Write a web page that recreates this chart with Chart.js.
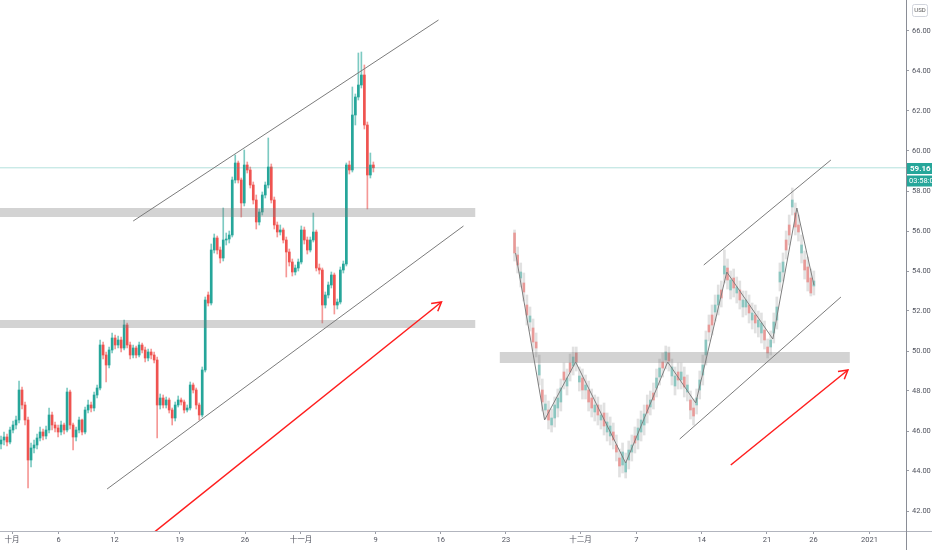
<!DOCTYPE html>
<html><head><meta charset="utf-8">
<script src="https://cdn.jsdelivr.net/npm/chart.js@4.4.0/dist/chart.umd.min.js"></script>
<style>html,body{margin:0;padding:0;background:#fff;}canvas{display:block;}</style>
</head><body>
<canvas id="c" width="932" height="550"></canvas>
<script>
// ---------- time axis (days since 1 Oct 2020) ----------
const xTickDays   = [0, 5, 11, 18, 25, 31, 39, 46, 53, 61, 67, 74, 81, 86, 92];
const xTickLabels = ['十月','6','12','19','26','十一月','9','16','23','十二月','7','14','21','26','2021'];
const yTickValues = [42,44,46,48,50,52,54,56,58,60,62,64,66];

// ---------- real candles (left part) ----------
const leftStartDay = -1.18;
const leftStep = 0.3222;
const leftO = [45.35,45.55,45.70,45.45,46.05,46.30,46.55,48.05,47.30,46.55,44.55,45.15,45.30,45.65,45.95,45.75,46.05,46.80,46.30,46.15,45.95,46.30,46.05,47.95,46.30,45.70,46.05,46.55,45.95,47.05,47.30,47.15,47.80,48.15,50.30,49.80,49.30,50.05,50.65,50.30,50.55,50.15,51.30,50.30,49.80,50.15,49.80,50.30,50.05,49.65,49.95,49.80,49.55,47.30,47.65,47.30,47.55,47.05,46.65,47.30,47.55,47.45,47.05,47.15,48.30,48.05,47.30,46.80,49.05,52.80,52.40,55.05,55.65,55.05,54.65,55.55,55.60,55.80,58.55,59.40,58.55,57.40,59.30,59.05,58.30,57.55,56.45,56.95,57.80,58.30,59.20,57.55,56.30,55.95,56.05,55.55,54.95,54.45,53.95,54.15,54.45,56.05,55.55,55.05,55.55,55.95,54.15,54.05,52.30,52.80,53.30,53.80,52.30,52.45,54.05,54.35,59.30,59.05,61.80,62.70,63.30,63.80,61.30,58.80,59.30];
const leftH = [45.75,45.95,45.85,46.20,46.50,46.75,48.50,48.20,47.45,46.70,45.40,45.55,45.85,46.20,46.10,46.25,47.15,46.95,46.45,46.30,46.50,46.40,48.15,48.05,46.40,46.20,46.70,46.60,47.20,47.55,47.45,47.95,48.30,50.55,50.45,49.95,50.20,50.90,50.80,50.75,50.70,51.55,51.40,50.45,50.30,50.25,50.45,50.40,50.20,50.10,50.10,49.95,49.70,47.85,47.80,47.70,47.65,47.15,47.45,47.75,47.65,47.55,47.30,48.45,48.40,48.15,47.40,49.20,52.70,52.95,55.35,55.85,55.75,55.20,57.15,55.90,56.00,58.70,59.80,59.50,58.65,60.05,59.45,59.20,58.45,57.80,57.10,57.95,58.45,60.65,59.35,57.70,56.45,56.30,56.15,55.70,55.10,54.60,54.30,54.60,56.25,56.20,55.70,55.70,56.90,56.05,54.35,54.15,52.95,53.45,53.95,53.90,52.60,54.20,54.50,59.40,59.50,63.20,62.85,64.90,64.95,64.30,61.45,59.90,59.45];
const leftL = [45.10,45.30,45.25,45.35,45.90,46.10,46.40,47.10,46.30,43.15,44.20,44.90,45.10,45.50,45.55,45.60,45.90,46.05,45.95,45.70,45.80,45.85,45.95,46.10,45.05,45.50,45.90,45.80,45.85,46.90,46.95,47.00,47.65,48.05,49.60,48.45,49.15,49.90,50.10,50.15,49.95,50.05,50.15,49.60,49.65,49.65,49.70,49.90,49.45,49.50,49.60,49.40,45.65,47.10,47.15,47.15,46.90,46.30,46.50,47.20,47.30,46.90,46.95,47.05,47.90,47.10,46.55,46.70,48.95,52.25,52.30,54.90,54.85,54.40,54.50,55.30,55.40,55.70,58.40,58.40,56.70,57.25,58.90,58.15,57.35,56.10,56.30,56.80,57.65,58.15,57.40,56.10,55.70,55.80,55.40,53.70,54.25,53.75,53.80,54.00,54.35,55.35,54.85,54.95,55.45,54.00,53.85,51.40,52.15,52.65,53.15,51.85,52.10,52.35,53.90,54.25,58.85,58.95,61.30,62.55,63.15,61.10,57.10,58.65,58.95];
const leftC = [45.55,45.70,45.45,46.05,46.30,46.55,48.05,47.30,46.55,44.55,45.15,45.30,45.65,45.95,45.75,46.05,46.80,46.30,46.15,45.95,46.30,46.05,47.95,46.30,45.70,46.05,46.55,45.95,47.05,47.30,47.15,47.80,48.15,50.30,49.80,49.30,50.05,50.65,50.30,50.55,50.15,51.30,50.30,49.80,50.15,49.80,50.30,50.05,49.65,49.95,49.80,49.55,47.30,47.65,47.30,47.55,47.05,46.65,47.30,47.55,47.45,47.05,47.15,48.30,48.05,47.30,46.80,49.05,52.55,52.40,55.05,55.65,55.05,54.65,55.55,55.60,55.80,58.55,59.40,58.55,57.40,59.30,59.05,58.30,57.55,56.45,56.95,57.80,58.30,59.20,57.55,56.30,55.95,56.05,55.55,54.95,54.45,53.95,54.15,54.45,56.05,55.55,55.05,55.55,55.95,54.15,54.05,52.30,52.80,53.30,53.80,52.30,52.45,54.05,54.35,59.30,59.05,61.80,62.70,63.30,63.80,61.30,58.80,59.30,59.16];

// ---------- projected (ghost) candles (right part) ----------
const ghostStartDay = 53.92;
const ghostStep = 0.3311;
const ghostO = [55.90,54.80,53.65,53.40,52.30,51.45,51.15,50.45,48.80,48.05,47.05,47.05,46.30,46.65,47.15,47.45,48.95,48.25,49.40,49.25,49.90,48.45,48.65,48.05,48.05,47.65,46.95,47.30,46.55,46.90,45.95,45.75,45.95,45.30,44.65,44.30,43.95,44.55,44.95,45.75,45.55,45.95,46.30,47.30,47.20,47.90,48.15,48.70,49.45,49.55,49.90,48.75,48.25,48.95,48.55,48.70,47.95,47.55,47.15,47.30,48.05,48.80,49.80,51.30,51.80,51.95,52.30,53.05,53.85,54.15,53.05,53.65,52.90,53.05,52.20,52.20,52.30,51.55,51.80,51.20,50.90,51.05,50.20,50.20,50.90,51.55,53.45,53.95,55.55,56.30,57.20,56.90,56.30,54.90,54.55,54.20,53.65,53.25];
const ghostH = [56.05,55.20,54.40,53.90,52.80,52.20,51.60,50.90,49.80,48.60,47.80,47.50,47.10,47.70,48.10,48.60,49.40,49.10,49.85,50.20,50.20,49.20,49.10,48.80,48.50,48.10,47.80,47.70,47.30,47.40,46.90,46.70,46.40,45.80,45.10,45.40,44.90,45.50,45.80,46.20,46.60,47.00,47.30,47.80,48.00,48.40,49.10,49.60,49.90,50.25,50.20,49.60,49.20,49.40,49.40,49.20,48.80,48.00,47.60,48.10,49.00,49.80,51.00,51.80,52.30,52.80,53.30,53.50,55.05,54.60,54.00,54.10,53.70,53.50,53.00,53.00,52.80,52.40,52.30,52.00,51.90,51.50,50.60,51.00,51.90,52.70,54.40,54.90,56.00,56.80,58.15,57.40,56.80,55.80,55.00,54.70,54.10,54.00];
const ghostL = [54.50,53.90,53.20,52.50,51.30,51.00,50.00,49.70,48.30,47.00,46.60,46.10,45.95,46.20,46.70,47.00,48.10,47.80,48.50,48.80,49.00,48.00,47.60,47.60,47.00,46.70,46.50,46.30,46.10,45.80,45.50,45.30,45.10,44.50,43.70,43.90,43.65,44.10,44.50,44.90,45.10,45.50,45.80,46.40,46.80,47.10,47.70,48.30,48.70,49.10,49.00,48.30,47.80,48.10,48.10,47.70,47.50,46.60,46.30,46.85,47.60,48.30,49.30,50.50,50.80,51.50,51.80,52.20,53.40,53.10,52.60,52.70,52.40,52.10,51.70,51.80,51.40,51.10,50.90,50.70,50.40,50.10,49.65,49.80,50.40,51.10,53.00,53.50,54.60,55.30,56.80,55.80,55.50,54.40,53.60,53.00,52.75,52.80];
const ghostC = [54.90,54.30,53.95,52.95,51.80,51.75,50.45,50.15,49.30,47.45,47.35,46.55,46.65,47.30,47.65,48.15,48.55,48.65,48.95,49.70,49.45,48.75,48.05,48.30,47.45,47.15,47.30,46.80,46.80,46.25,46.45,46.25,45.55,44.95,44.25,44.95,44.45,45.05,45.30,45.40,46.15,46.55,46.85,46.90,47.55,47.55,48.65,49.15,49.15,49.95,49.50,49.20,48.75,48.55,48.95,48.20,48.30,47.05,46.75,47.65,48.55,49.30,50.55,50.95,51.30,52.30,52.80,52.65,54.25,53.55,53.55,53.15,53.20,52.55,52.55,52.55,51.90,51.90,51.40,51.55,51.40,50.55,49.90,50.55,51.45,52.20,53.95,54.45,55.05,55.80,57.55,56.20,55.95,55.30,54.05,53.45,52.90,53.50];

// ---------- drawings (day, price) ----------
const zigzagDays   = [54.03, 57.14, 60.47, 65.84, 70.35, 73.36, 76.69, 81.63, 84.21, 86.04];
const zigzagPrices = [54.90, 46.55, 49.45, 44.40, 49.45, 47.40, 53.95, 50.60, 57.15, 53.30];
const channelLines = [
  [[13.0, 56.50], [45.76, 66.55]],
  [[10.2, 43.10], [48.44, 56.25]],
  [[74.22, 54.30], [87.86, 59.55]],
  [[71.64, 45.60], [88.94, 52.70]]
];
const arrowLines = [
  [[15.15, 40.90], [46.08, 52.45]],
  [[44.97, 52.375], [46.08, 52.45], [45.68, 51.99]],
  [[77.12, 44.30], [89.69, 49.05]],
  [[88.62, 48.97], [89.69, 49.05], [89.30, 48.585]]
];
const bands = [ // [fromDay, toDay, bottomPrice, topPrice]
  [-1.3, 49.73, 56.70, 57.15],
  [-1.3, 49.73, 51.15, 51.55],
  [52.31, 89.90, 49.40, 49.95]
];
const lastPrice = 59.16;
const countdown = '03:58:02';
const currency = 'USD';

const xMin = -1.289, xMax = 95.92, yMin = 41.0, yMax = 67.55;
const UP = '#26a69a', DOWN = '#ef5350';
const FONT = 'Roboto, "Noto Sans CJK SC", sans-serif';

const leftT = leftC.map((_, i) => leftStartDay + i * leftStep);
const ghostT = ghostC.map((_, i) => ghostStartDay + i * ghostStep);
const leftCol = leftC.map((c, i) => c >= leftO[i] ? UP : DOWN);
const leftWickCol = leftC.map((c, i) => c >= leftO[i] ? 'rgba(38,166,154,0.6)' : 'rgba(239,83,80,0.6)');
const ghostCol = ghostC.map((c, i) => c >= ghostO[i] ? 'rgba(38,166,154,0.45)' : 'rgba(239,83,80,0.5)');

const datasets = [];
const lineDs = (pts, color, width, order, extra) => Object.assign({
  type: 'line', data: pts.map(p => ({x: p[0], y: p[1]})), borderColor: color, borderWidth: width,
  pointRadius: 0, fill: false, tension: 0, order: order
}, extra || {});

channelLines.forEach(l => datasets.push(lineDs(l, '#7b7b7b', 1, 1)));
arrowLines.forEach(l => datasets.push(lineDs(l, '#ff1e1e', 1.5, 1)));
datasets.push(lineDs(zigzagDays.map((d, i) => [d, zigzagPrices[i]]), '#7e7e7e', 1, 2));
datasets.push(lineDs([[xMin, lastPrice], [xMax, lastPrice]], 'rgba(38,166,154,0.35)', 1, 3));
bands.forEach(b => {
  datasets.push(lineDs([[b[0], b[3]], [b[1], b[3]]], 'rgba(0,0,0,0)', 0, 5));
  datasets.push(lineDs([[b[0], b[2]], [b[1], b[2]]], 'rgba(0,0,0,0)', 0, 5, {fill: '-1', backgroundColor: 'rgba(120,120,120,0.33)'}));
});
datasets.push({type: 'bar', data: leftT.map((t, i) => ({x: t, y: [leftO[i], leftC[i]]})), backgroundColor: leftCol,
  barThickness: 2, minBarLength: 1, grouped: false, order: 9, borderWidth: 0});
datasets.push({type: 'bar', data: leftT.map((t, i) => ({x: t, y: [leftL[i], leftH[i]]})), backgroundColor: leftWickCol,
  barThickness: 1, grouped: false, order: 10, borderWidth: 0});
datasets.push({type: 'bar', data: ghostT.map((t, i) => ({x: t, y: [ghostO[i], ghostC[i]]})), backgroundColor: ghostCol,
  barThickness: 2, minBarLength: 1, grouped: false, order: 9, borderWidth: 0});
datasets.push({type: 'bar', data: ghostT.map((t, i) => ({x: t, y: [ghostL[i], ghostH[i]]})), backgroundColor: 'rgba(200,200,200,0.55)',
  barThickness: 2, grouped: false, order: 10, borderWidth: 0});

const overlay = {
  id: 'overlay',
  afterDraw(chart) {
    const c = chart.ctx, a = chart.chartArea, y = chart.scales.y;
    c.save();
    c.lineWidth = 1;
    c.strokeStyle = '#b2b5be';
    c.beginPath(); c.moveTo(0, a.bottom + 0.5); c.lineTo(chart.width, a.bottom + 0.5); c.stroke();
    c.strokeStyle = '#8a8d96';
    c.beginPath(); c.moveTo(a.right + 0.5, 0); c.lineTo(a.right + 0.5, chart.height); c.stroke();
    // last price label
    const py = Math.round(y.getPixelForValue(lastPrice));
    c.fillStyle = UP;
    c.fillRect(a.right + 1, py - 5, chart.width - a.right, 11);
    c.fillRect(a.right + 1, py + 7.5, chart.width - a.right, 11);
    c.fillStyle = '#fff';
    c.font = 'bold 8px ' + FONT;
    c.textBaseline = 'middle';
    c.textAlign = 'left';
    c.fillText(lastPrice.toFixed(2), a.right + 4, py + 0.8);
    c.font = '7.5px ' + FONT;
    c.fillText(countdown, a.right + 3, py + 13.3);
    // currency box
    c.strokeStyle = '#d1d4dc';
    c.beginPath();
    if (c.roundRect) c.roundRect(912.5, 4.5, 15, 12, 2); else c.rect(912.5, 4.5, 15, 12);
    c.stroke();
    c.fillStyle = '#555';
    c.font = '6px ' + FONT;
    c.textAlign = 'center';
    c.fillText(currency, 920, 10.8);
    c.restore();
  }
};

new Chart(document.getElementById('c'), {
  type: 'bar',
  data: {datasets},
  plugins: [overlay],
  options: {
    responsive: false, animation: false, maintainAspectRatio: false,
    layout: {padding: 0},
    plugins: {legend: {display: false}, tooltip: {enabled: false}},
    scales: {
      x: {
        type: 'linear', min: xMin, max: xMax, offset: false,
        grid: {drawOnChartArea: false, drawTicks: true, tickLength: 3, color: '#9a9da6', offset: false},
        border: {display: false},
        afterBuildTicks: s => { s.ticks = xTickDays.map(v => ({value: v})); },
        afterFit: s => { s.height = 19; s.paddingLeft = 0; s.paddingRight = 0; },
        ticks: {autoSkip: false, maxRotation: 0, padding: 2, color: '#50535e',
          font: {size: 7.5, family: FONT},
          callback: (v, i) => xTickLabels[i]}
      },
      y: {
        position: 'right', min: yMin, max: yMax,
        grid: {drawOnChartArea: false, drawTicks: true, tickLength: 3, color: '#9a9da6'},
        border: {display: false},
        afterBuildTicks: s => { s.ticks = yTickValues.map(v => ({value: v})); },
        afterFit: s => { s.width = 26; s.paddingTop = 0; s.paddingBottom = 0; },
        ticks: {padding: 3, color: '#50535e', font: {size: 7.5, family: FONT},
          callback: v => Number(v).toFixed(2)}
      }
    }
  }
});
</script>
</body></html>
